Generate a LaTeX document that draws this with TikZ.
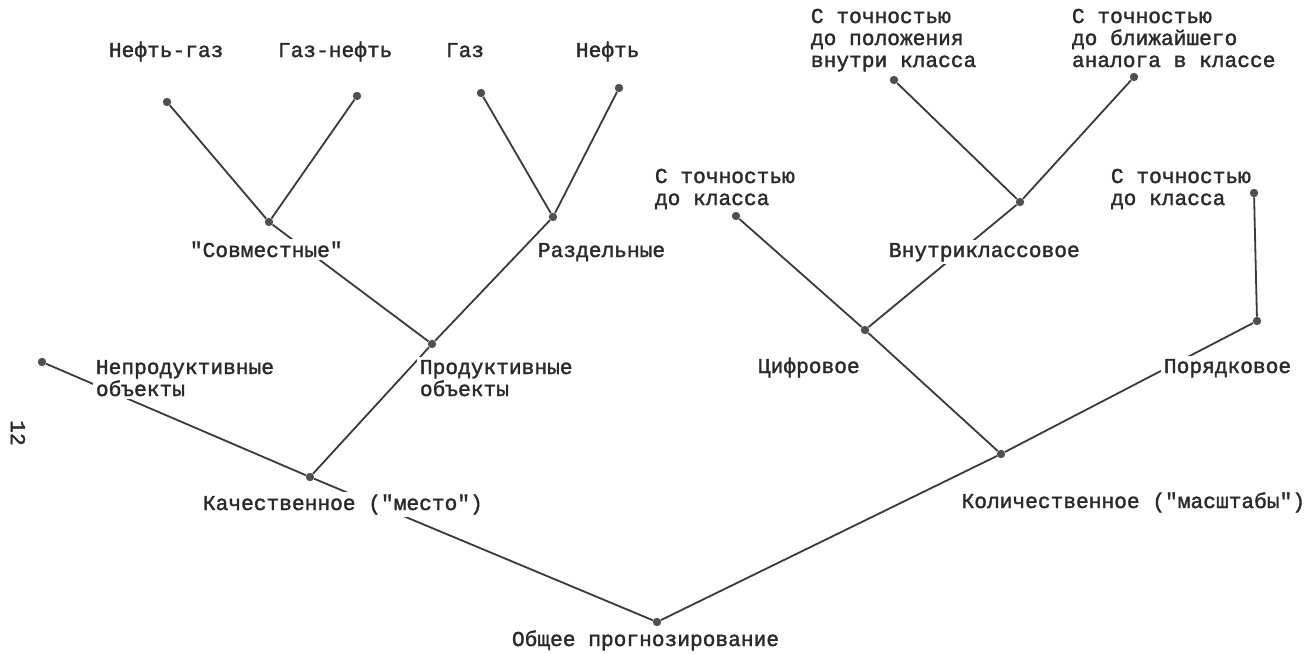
\documentclass[tikz,border=0pt]{standalone}
\usepackage{fontspec}
\newfontfamily\tw{Liberation Mono}[FakeBold=1.6]
\definecolor{txt}{HTML}{2A2A2A}
\definecolor{linec}{HTML}{3A3A3A}
\definecolor{dotc}{HTML}{505050}
\begin{document}
\begin{tikzpicture}[x=0.75pt,y=-0.75pt,
  every node/.style={font=\tw\fontsize{15.9}{16.5}\selectfont, text=txt},
  dot/.style={circle, fill=dotc, minimum size=6.3pt, inner sep=0pt},
  lbl/.style={fill=white, inner sep=2pt, anchor=base west, align=left},
  plain/.style={lbl, fill=none},
  link/.style={draw=linec, line width=1.35pt}]
\useasboundingbox (0,0) rectangle (1308,653);
\fill[white] (0,0) rectangle (1308,653);
% labels that cross no connector
\node[plain] (tA1) at (106,57) {Нефть-газ};
\node[plain] (tA2) at (275,57) {Газ-нефть};
\node[plain] (tA3) at (443,57) {Газ};
\node[plain] (tA4) at (573,57) {Нефть};
\node[plain] (tB1) at (652,205) {С точностью\\до класса};
\node[plain] (tB2) at (808,67) {С точностью\\до положения\\внутри класса};
\node[plain] (tB3) at (1069,67) {С точностью\\до ближайшего\\аналога в классе};
\node[plain] (tB4) at (1108,205) {С точностью\\до класса};
% dots
\node[dot] (A1) at (167,102) {};
\node[dot] (A2) at (357,96) {};
\node[dot] (A3) at (481,93) {};
\node[dot] (A4) at (619,88) {};
\node[dot] (Jsov) at (269,222) {};
\node[dot] (Jraz) at (553,217) {};
\node[dot] (Jprod) at (432,344) {};
\node[dot] (NP) at (42,362) {};
\node[dot] (Jkach) at (310,477) {};
\node[dot] (Root) at (657,622) {};
\node[dot] (B1) at (736,216) {};
\node[dot] (B2) at (894,80) {};
\node[dot] (B3) at (1134,77) {};
\node[dot] (Jvn) at (1020,202) {};
\node[dot] (Jcifr) at (865,330) {};
\node[dot] (B4) at (1254,193) {};
\node[dot] (Jpor) at (1257,321) {};
\node[dot] (Jkol) at (1001,454) {};
% connectors
\draw[link] (Root) -- (Jkach);
\draw[link] (Root) -- (Jkol);
\draw[link] (Jkach) -- (NP);
\draw[link] (Jkach) -- (Jprod);
\draw[link] (Jprod) -- (Jsov);
\draw[link] (Jprod) -- (Jraz);
\draw[link] (Jsov) -- (A1);
\draw[link] (Jsov) -- (A2);
\draw[link] (Jraz) -- (A3);
\draw[link] (Jraz) -- (A4);
\draw[link] (Jkol) -- (Jcifr);
\draw[link] (Jkol) -- (Jpor);
\draw[link] (Jcifr) -- (B1);
\draw[link] (Jcifr) -- (Jvn);
\draw[link] (Jvn) -- (B2);
\draw[link] (Jvn) -- (B3);
\draw[link] (Jpor) -- (B4);
% labels that interrupt connectors
\node[lbl] (tSov) at (187,257) {"Совместные"};
\node[lbl] (tRaz) at (535,257) {Раздельные};
\node[lbl] (tNP) at (93,396) {Непродуктивные\\объекты};
\node[lbl] (tProd) at (417,396) {Продуктивные\\объекты};
\node[lbl] (tKach) at (200,510) {Качественное ("место")};
\node[lbl] (tRoot) at (509,646) {Общее прогнозирование};
\node[lbl] (tVn) at (886,257) {Внутриклассовое};
\node[lbl] (tCifr) at (755,373) {Цифровое};
\node[lbl] (tPor) at (1161,373) {Порядковое};
\node[lbl, anchor=base east] (tKol) at (1308,508) {Количественное ("масштабы")};
\node[rotate=-90] (page) at (18,433) {12};
\end{tikzpicture}
\end{document}
